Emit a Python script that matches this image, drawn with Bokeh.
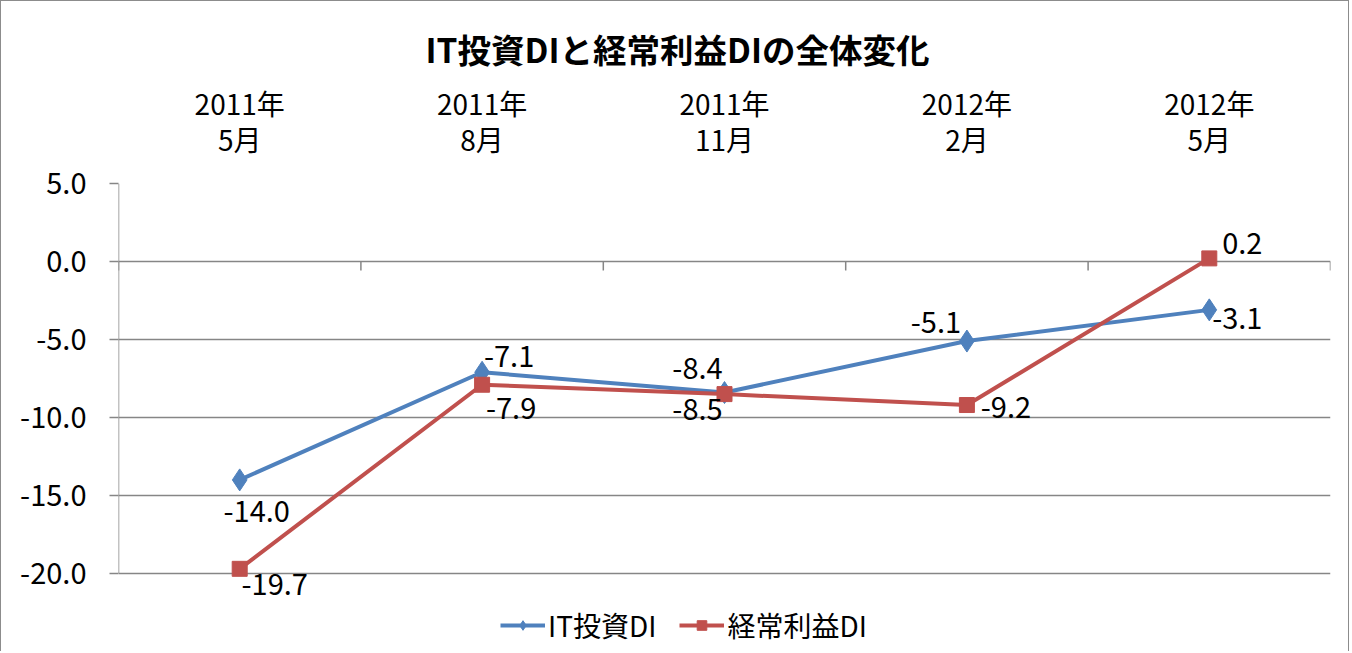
from bokeh.plotting import figure
from bokeh.models import (Range1d, LinearAxis, FixedTicker, CustomJSTickFormatter,
                          Legend, LegendItem, ColumnDataSource, NumeralTickFormatter)
from bokeh.core.properties import value
from bokeh.embed import file_html
from bokeh.resources import INLINE

# ---- data ----
categories = ["2011年\n5月", "2011年\n8月", "2011年\n11月", "2012年\n2月", "2012年\n5月"]
it_di = [-14.0, -7.1, -8.4, -5.1, -3.1]
profit_di = [-19.7, -7.9, -8.5, -9.2, 0.2]
y_ticks = [5.0, 0.0, -5.0, -10.0, -15.0, -20.0]
series_names = ["IT投資DI", "経常利益DI"]
title_text = "IT投資DIと経常利益DIの全体変化"

# label placement (screen px offsets from each point; +dy = downwards)
it_dx = [17, 27, -27, -31, 28]
it_dy = [32, -16, -24, -19, 9]
pr_dx = [35, 29, -27, 39, 33]
pr_dy = [16, 24, 15, 2, -15]

FONT = "Noto Sans CJK JP"
BLUE = "#4F81BD"
RED = "#C0504D"
GRAY = "#868686"

FRAME_W = 1212
PX_PER_UNIT = 15.6
TICK_PX = 9
LEGEND_ROOM = 5.0   # extra room (in y units) under the plot area for the legend

# category centre positions on a numeric axis (one unit per category)
x_pos = [i + 0.5 for i in range(len(categories))]
boundaries = list(range(len(categories) + 1))
y_lo, y_hi = min(y_ticks), max(y_ticks)
view_lo = y_lo - LEGEND_ROOM
FRAME_H = int(round((y_hi - view_lo) * PX_PER_UNIT))
tick_len = TICK_PX / PX_PER_UNIT

p = figure(frame_width=FRAME_W, frame_height=FRAME_H, output_backend="svg", toolbar_location=None,
           x_range=Range1d(0, len(categories)),
           y_range=Range1d(view_lo, y_hi),
           x_axis_location=None, y_axis_location="left",
           min_border_left=117, min_border_right=18, min_border_top=182, min_border_bottom=0)
p.styles = {"border-top": "1px solid #8c8c8c", "border-left": "1px solid #8c8c8c",
            "border-right": "1px solid #8c8c8c"}
p.outline_line_color = None
p.background_fill_color = "white"
p.border_fill_color = "white"
for g in p.grid:
    if g.dimension == 0:
        g.visible = False

# title
p.title.text = title_text
p.title.align = "left"
p.title.offset = 307
p.title.text_font = FONT
p.title.text_font_size = "33.5px"
p.title.text_font_style = "bold"
p.title.text_color = "black"
p.title.standoff = 14

# y axis (its line is drawn separately so it stops at the lowest tick)
ya = p.yaxis[0]
ya.ticker = FixedTicker(ticks=y_ticks)
ya.formatter = NumeralTickFormatter(format="0.0")
ya.axis_line_color = None
ya.major_tick_line_color = GRAY
ya.major_tick_line_width = 1.5
ya.major_tick_in = 0
ya.major_tick_out = 9
ya.minor_tick_line_color = None
ya.major_label_text_font = FONT
ya.major_label_text_font_size = "29px"
ya.major_label_text_color = "black"
ya.major_label_standoff = 23
p.ygrid.grid_line_color = GRAY
p.ygrid.grid_line_width = 1.5
p.ygrid.ticker = FixedTicker(ticks=y_ticks)
p.segment(x0=[boundaries[0]], y0=[y_lo], x1=[boundaries[0]], y1=[y_hi],
          line_color=GRAY, line_width=1.5)

# top category labels
top = LinearAxis(ticker=FixedTicker(ticks=x_pos),
                 formatter=CustomJSTickFormatter(args=dict(labels=categories),
                                                 code="return labels[Math.floor(tick)]"))
top.axis_line_color = None
top.major_tick_line_color = None
top.minor_tick_line_color = None
top.major_label_text_font = FONT
top.major_label_text_font_size = "28px"
top.major_label_text_color = "black"
top.major_label_text_line_height = 0.9
top.major_label_standoff = 19
p.add_layout(top, "above")

# small tick marks at the category boundaries on the zero line
p.segment(x0=boundaries, y0=[0] * len(boundaries), x1=boundaries,
          y1=[-tick_len] * len(boundaries), line_color=GRAY, line_width=1.5)

# series
l1 = p.line(x_pos, it_di, line_color=BLUE, line_width=4)
s1 = p.scatter(x_pos, it_di, marker="diamond", size=22, fill_color=BLUE, line_color=BLUE)
l2 = p.line(x_pos, profit_di, line_color=RED, line_width=4)
s2 = p.scatter(x_pos, profit_di, marker="square", size=15, fill_color=RED, line_color=RED)

# data labels
for vals, dx, dy in ((it_di, it_dx, it_dy), (profit_di, pr_dx, pr_dy)):
    src = ColumnDataSource(dict(x=x_pos, y=vals, text=[f"{v:.1f}" for v in vals], dx=dx, dy=dy))
    p.text(x="x", y="y", text="text", x_offset="dx", y_offset="dy", source=src,
           text_font=value(FONT), text_font_size=value("29px"), text_color="black",
           text_align="center", text_baseline="middle")

legend = Legend(items=[LegendItem(label=series_names[0], renderers=[l1, s1]),
                       LegendItem(label=series_names[1], renderers=[l2, s2])],
                orientation="horizontal", location=(382, 6),
                label_text_font=FONT, label_text_font_size="28px", label_text_color="black",
                glyph_width=45, glyph_height=24, border_line_color=None,
                background_fill_alpha=0, spacing=23, padding=0, margin=0, label_standoff=3)
p.add_layout(legend, "center")

open("out.html", "w").write(file_html(p, INLINE))
